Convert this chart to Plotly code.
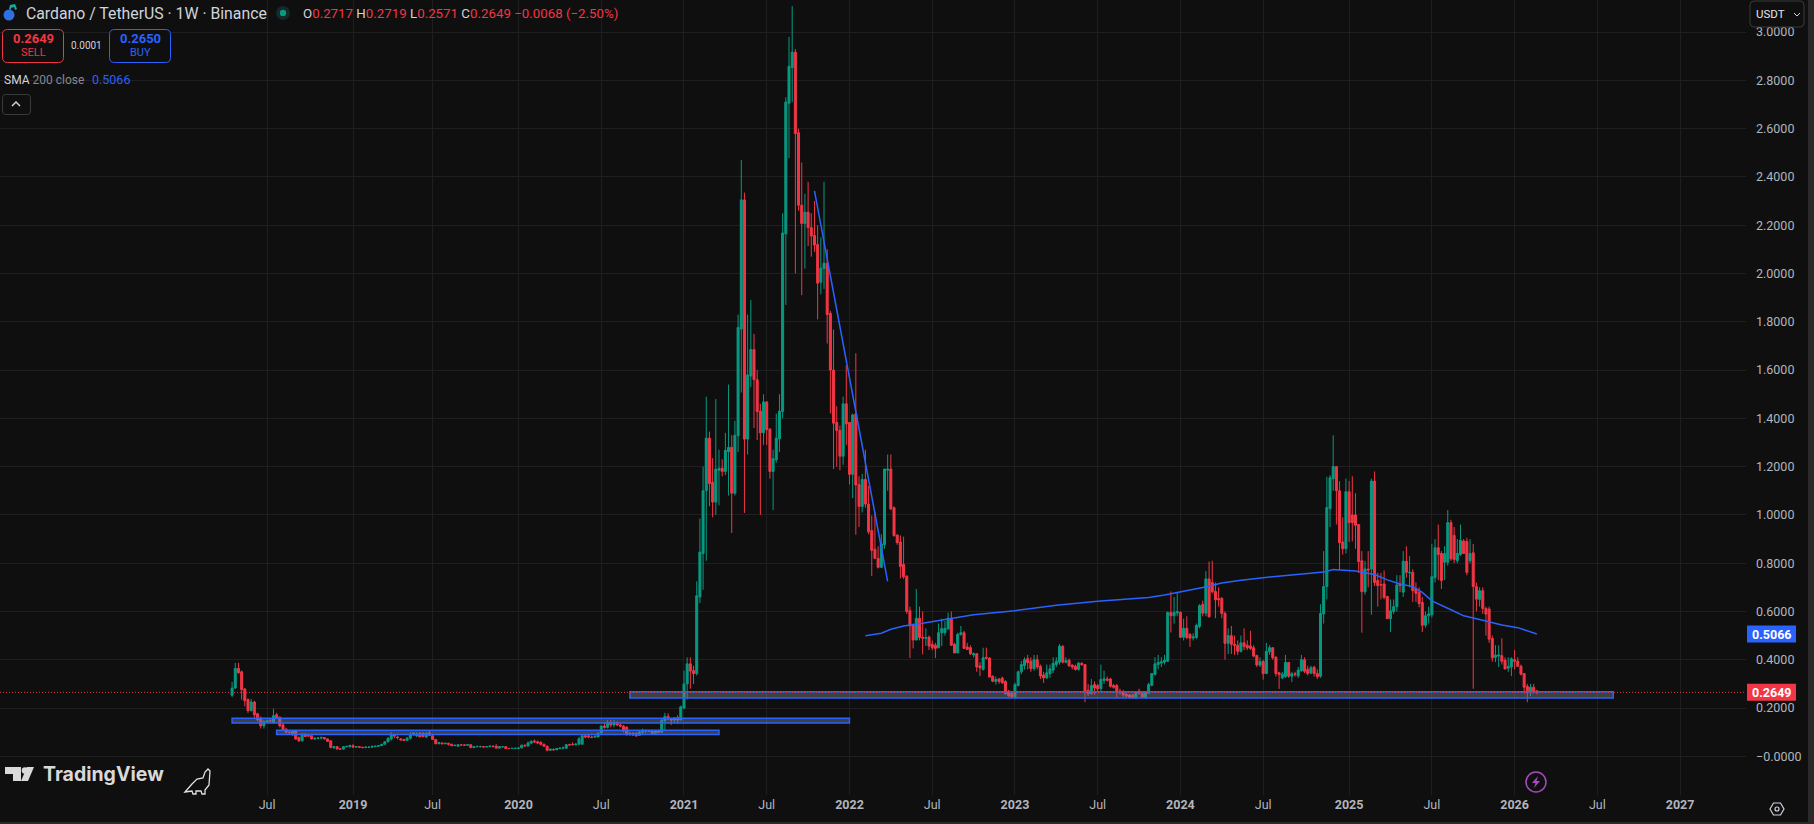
import pandas as pd
import plotly.graph_objects as go

# (open, high, low, close) per week, grouped by year
bars_2018 = [(.253,.308,.246,.283),(.283,.387,.279,.364),(.364,.387,.342,.346),(.35,.355,.235,.276),(.279,.283,.207,.23),
(.235,.24,.18,.189),(.19,.238,.185,.225),(.225,.23,.16,.172),(.176,.18,.145,.151),(.158,.165,.115,.126),
(.126,.15,.115,.144),(.144,.152,.14,.147),(.147,.155,.14,.146),(.14,.197,.135,.168),(.172,.18,.155,.158),
(.162,.165,.12,.126),(.13,.14,.105,.11),(.112,.118,.095,.1),(.1,.107,.09,.098),(.089,.107,.085,.105),
(.105,.11,.068,.072),(.078,.082,.06,.064),(.064,.095,.062,.092),(.092,.094,.08,.082),(.086,.092,.082,.084),
(.085,.088,.07,.072),(.072,.08,.068,.074),(.074,.078,.07,.076),(.076,.082,.07,.078),(.078,.08,.07,.072),
(.072,.074,.06,.062),(.064,.066,.034,.036),(.036,.04,.03,.04),(.04,.042,.028,.03),(.03,.032,.028,.03),
(.03,.042,.028,.04),(.04,.044,.036,.041),(.04,.048,.036,.044)]
bars_2019 = [(.044,.05,.036,.038),(.038,.042,.036,.04),(.04,.042,.036,.038),(.037,.04,.035,.036),(.036,.04,.036,.038),
(.038,.04,.034,.038),(.038,.046,.035,.04),(.04,.042,.038,.042),(.042,.046,.04,.044),(.044,.05,.043,.05),
(.05,.063,.05,.06),(.06,.078,.058,.075),(.072,.1,.065,.09),(.09,.09,.075,.084),(.08,.086,.07,.078),
(.072,.076,.066,.068),(.07,.072,.065,.066),(.066,.08,.064,.075),(.075,.1,.07,.088),(.088,.1,.085,.097),
(.085,.1,.08,.092),(.095,.1,.08,.08),(.095,.1,.078,.082),(.08,.1,.075,.095),(.097,.105,.085,.086),
(.085,.09,.07,.07),(.07,.07,.05,.052),(.052,.06,.05,.056),(.055,.058,.05,.052),(.052,.056,.05,.054),
(.054,.056,.045,.05),(.05,.052,.042,.044),(.044,.05,.042,.045),(.042,.048,.04,.048),(.047,.05,.045,.047),
(.047,.05,.044,.046),(.046,.05,.045,.048),(.048,.05,.034,.036),(.036,.042,.034,.04),(.04,.045,.038,.04),
(.04,.044,.037,.04),(.04,.041,.036,.039),(.039,.042,.037,.04),(.04,.045,.039,.042),(.042,.046,.038,.04),
(.042,.05,.032,.034),(.034,.042,.032,.04),(.04,.042,.035,.04),(.04,.04,.032,.032),(.033,.034,.03,.032),
(.032,.034,.03,.033),(.033,.035,.03,.033)]
bars_2020 = [(.033,.036,.03,.034),(.035,.048,.033,.046),(.045,.05,.04,.043),(.043,.062,.04,.055),(.055,.066,.05,.062),
(.063,.07,.055,.06),(.06,.065,.05,.056),(.058,.062,.045,.05),(.05,.052,.04,.042),(.042,.044,.02,.025),
(.025,.03,.022,.03),(.028,.033,.024,.027),(.027,.035,.026,.032),(.032,.036,.03,.034),(.034,.04,.03,.035),
(.033,.05,.032,.048),(.048,.052,.044,.047),(.05,.058,.046,.048),(.048,.055,.045,.05),(.05,.08,.048,.072),
(.05,.09,.05,.085),(.085,.09,.075,.08),(.085,.09,.075,.08),(.08,.086,.075,.078),(.08,.09,.076,.082),
(.08,.1,.08,.095),(.098,.13,.09,.125),(.125,.14,.115,.12),(.12,.15,.115,.14),(.14,.15,.12,.13),
(.13,.15,.12,.14),(.14,.145,.125,.13),(.13,.14,.12,.125),(.125,.13,.1,.105),(.12,.125,.085,.09),
(.09,.102,.085,.095),(.095,.1,.085,.088),(.095,.1,.08,.085),(.087,.105,.085,.1),(.1,.115,.09,.105),
(.105,.112,.095,.105),(.105,.11,.1,.103),(.105,.11,.09,.095),(.095,.11,.09,.105),(.105,.11,.095,.1),
(.1,.155,.095,.148),(.148,.18,.11,.165),(.165,.178,.15,.155),(.155,.16,.13,.15),(.15,.16,.14,.16),
(.16,.17,.135,.15),(.15,.21,.15,.205)]
bars_2021 = [(.2,.355,.195,.3),(.3,.41,.235,.383),(.383,.41,.28,.353),(.355,.375,.3,.343),(.343,.725,.335,.665),
(.66,.985,.635,.846),(.84,1.2,.69,1.10),(1.10,1.49,.81,1.318),(1.318,1.345,1.036,1.13),(1.135,1.235,.99,1.053),
(1.053,1.48,1.0,1.19),(1.185,1.27,1.04,1.193),(1.193,1.23,1.16,1.18),(1.18,1.34,1.165,1.267),(1.262,1.54,1.08,1.28),
(1.28,1.33,.925,1.09),(1.09,1.39,1.08,1.33),(1.328,1.83,1.26,1.776),(1.77,2.47,1.507,2.305),(2.305,2.335,1.008,1.314),
(1.314,1.83,1.25,1.58),(1.575,1.89,1.53,1.685),(1.685,1.75,1.36,1.56),(1.56,1.6,1.31,1.428),(1.43,1.46,1.0,1.34),
(1.34,1.5,1.29,1.468),(1.468,1.47,1.29,1.353),(1.355,1.36,1.15,1.18),(1.18,1.27,1.02,1.233),(1.228,1.42,1.217,1.318),
(1.315,1.5,1.26,1.43),(1.428,2.25,1.40,2.168),(2.164,2.73,1.87,2.71),(2.705,2.98,2.478,2.858),(2.853,3.108,2.71,2.917),
(2.917,2.93,2.0,2.58),(2.583,2.6,2.26,2.283),(2.283,2.46,1.91,2.207),(2.207,2.33,2.02,2.254),(2.254,2.38,2.114,2.19),
(2.19,2.25,2.07,2.155),(2.158,2.3,2.09,2.118),(2.12,2.2,1.81,1.96),(1.964,2.15,1.914,2.022),(2.02,2.38,1.936,2.043),
(2.043,2.1,1.71,1.83),(1.835,1.845,1.42,1.6),(1.6,1.768,1.19,1.38),(1.383,1.45,1.2,1.35),(1.35,1.37,1.185,1.243),
(1.243,1.49,1.207,1.46),(1.46,1.62,1.29,1.377)]
bars_2022 = [(1.383,1.385,1.126,1.168),(1.168,1.42,1.07,1.414),(1.418,1.67,.918,1.124),(1.126,1.16,.95,1.035),(1.035,1.17,1.01,1.147),
(1.147,1.27,1.03,1.045),(1.045,1.12,.92,.93),(.935,.997,.747,.853),(.858,1.014,.817,.82),(.82,.87,.778,.783),
(.783,.92,.78,.88),(.877,1.19,.86,1.19),(1.185,1.25,1.1,1.19),(1.19,1.25,1.02,1.025),(1.03,1.035,.91,.914),
(.917,.917,.876,.885),(.888,.915,.737,.786),(.795,.91,.735,.744),(.746,.75,.59,.6),(.603,.62,.407,.54),
(.543,.55,.447,.482),(.482,.693,.48,.572),(.572,.62,.48,.492),(.493,.6,.422,.489),(.489,.53,.457,.492),
(.494,.5,.44,.457),(.464,.48,.44,.45),(.46,.47,.407,.447),(.45,.55,.447,.512),(.512,.57,.457,.529),
(.512,.56,.5,.53),(.527,.595,.526,.572),(.572,.6,.457,.46),(.464,.47,.428,.428),(.428,.512,.428,.505),
(.505,.54,.5,.512),(.512,.52,.445,.447),(.453,.47,.44,.443),(.45,.46,.42,.425),(.42,.43,.41,.425),
(.425,.425,.35,.37),(.374,.39,.332,.367),(.36,.45,.355,.408),(.41,.45,.4,.407),(.407,.41,.328,.328),
(.332,.335,.307,.311),(.31,.33,.297,.318),(.32,.325,.3,.31),(.324,.33,.3,.305),(.31,.315,.255,.26),
(.27,.275,.245,.252),(.26,.265,.24,.246)]
bars_2023 = [(.246,.305,.24,.297),(.293,.355,.29,.35),(.35,.395,.34,.38),(.376,.41,.36,.4),(.404,.42,.36,.388),
(.394,.41,.35,.363),(.363,.42,.355,.4),(.4,.42,.36,.37),(.373,.38,.32,.333),(.337,.35,.304,.325),
(.325,.38,.32,.346),(.342,.38,.325,.362),(.357,.41,.345,.385),(.38,.41,.37,.394),(.39,.465,.38,.456),
(.456,.46,.385,.39),(.39,.41,.385,.396),(.398,.405,.37,.375),(.378,.38,.36,.37),(.373,.38,.355,.36),
(.36,.39,.355,.386),(.385,.39,.375,.38),(.38,.38,.224,.27),(.274,.3,.25,.26),(.26,.32,.255,.293),
(.297,.31,.255,.283),(.293,.3,.27,.28),(.28,.38,.27,.318),(.314,.355,.3,.321),(.32,.33,.31,.315),
(.32,.325,.285,.29),(.293,.3,.28,.286),(.293,.3,.242,.265),(.27,.28,.255,.265),(.267,.275,.245,.254),
(.256,.265,.245,.249),(.254,.258,.24,.243),(.253,.26,.238,.242),(.242,.27,.238,.265),(.27,.28,.255,.262),
(.261,.265,.24,.245),(.242,.27,.24,.265),(.262,.305,.26,.297),(.294,.345,.29,.343),(.339,.41,.335,.383),
(.38,.42,.36,.389),(.386,.41,.37,.392),(.39,.42,.38,.398),(.394,.6,.39,.596),(.596,.683,.513,.582),
(.582,.66,.55,.596),(.594,.68,.58,.6)]
bars_2024 = [(.596,.6,.49,.493),(.493,.57,.48,.53),(.53,.58,.485,.492),(.505,.51,.453,.489),(.49,.51,.48,.495),
(.492,.55,.485,.542),(.538,.63,.53,.624),(.63,.645,.58,.593),(.593,.767,.58,.735),(.735,.807,.575,.578),
(.72,.81,.675,.682),(.683,.72,.572,.648),(.654,.7,.62,.648),(.654,.66,.572,.592),(.592,.6,.4,.468),
(.468,.53,.424,.5),(.5,.54,.424,.464),(.464,.5,.42,.46),(.46,.48,.42,.435),(.435,.5,.43,.47),
(.47,.53,.44,.455),(.46,.48,.44,.449),(.457,.52,.44,.447),(.45,.46,.41,.415),(.418,.42,.37,.378),
(.378,.41,.37,.393),(.393,.4,.318,.343),(.343,.47,.34,.435),(.433,.46,.42,.45),(.45,.45,.4,.408),
(.41,.415,.33,.343),(.346,.35,.279,.339),(.325,.35,.32,.34),(.33,.42,.325,.389),(.389,.39,.325,.332),
(.332,.35,.308,.342),(.342,.35,.33,.339),(.333,.37,.325,.357),(.355,.42,.35,.4),(.4,.41,.345,.352),
(.36,.375,.335,.343),(.345,.375,.34,.367),(.369,.375,.33,.343),(.343,.36,.32,.33),(.332,.63,.325,.592),
(.59,.85,.55,.703),(.703,1.158,.65,1.03),(1.026,1.165,.95,1.154),(1.15,1.33,1.1,1.2),(1.2,1.2,.96,1.1),
(1.1,1.14,.77,.885),(.888,.99,.835,.86),(.86,1.15,.84,1.096)]
bars_2025 = [(1.096,1.14,.888,.968),(1.0,1.16,.89,.968),(1.0,1.09,.86,.957),(.96,.96,.76,.807),(.81,.85,.512,.682),
(.682,.81,.67,.776),(.776,.85,.7,.772),(.776,1.15,.586,1.14),(1.14,1.18,.705,.72),(.728,.76,.62,.707),
(.712,.76,.65,.71),(.714,.77,.65,.658),(.662,.665,.57,.57),(.57,.65,.515,.603),(.6,.65,.59,.62),
(.62,.75,.6,.71),(.714,.75,.68,.707),(.68,.85,.66,.808),(.808,.87,.74,.762),(.76,.83,.7,.762),
(.762,.775,.64,.686),(.693,.72,.64,.675),(.68,.7,.617,.633),(.637,.66,.515,.543),(.543,.6,.533,.582),
(.582,.62,.55,.59),(.586,.88,.575,.744),(.74,.9,.72,.864),(.864,.96,.73,.836),(.84,.85,.693,.728),
(.804,.87,.73,.84),(.804,1.02,.79,.968),(.968,.98,.81,.818),(.915,.95,.8,.815),(.81,.9,.8,.84),
(.836,.96,.83,.895),(.892,.9,.84,.84),(.89,.905,.75,.762),(.81,.9,.8,.84),(.843,.88,.28,.703),
(.703,.72,.6,.651),(.65,.7,.62,.686),(.686,.7,.59,.612),(.612,.62,.5,.589),(.61,.62,.47,.485),
(.488,.5,.392,.408),(.41,.46,.39,.419),(.415,.46,.37,.42),(.417,.489,.38,.394),(.398,.41,.36,.362),
(.365,.41,.35,.372),(.37,.41,.332,.404)]
bars_2026 = [(.4,.44,.36,.394),(.394,.41,.37,.373),(.373,.38,.335,.34),(.343,.345,.26,.286),(.29,.3,.224,.265),
(.265,.3,.25,.286),(.286,.3,.26,.27),(.2717,.2719,.2571,.2649)]

year_starts = {"2018-04-16": bars_2018, "2019-01-07": bars_2019, "2020-01-06": bars_2020, "2021-01-04": bars_2021,
               "2022-01-03": bars_2022, "2023-01-02": bars_2023, "2024-01-01": bars_2024, "2025-01-06": bars_2025,
               "2026-01-05": bars_2026}

sma_dates = ["2022-02-07","2022-03-14","2022-04-04","2022-05-02","2022-06-13","2022-08-08","2022-10-03","2023-01-02",
             "2023-04-03","2023-07-03","2023-10-23","2023-11-27","2024-02-19","2024-04-01","2024-05-13","2024-07-22",
             "2024-11-11","2024-12-02","2025-01-20","2025-03-03","2025-03-31","2025-04-28","2025-05-26","2025-06-16",
             "2025-07-07","2025-08-18","2025-09-15","2025-10-27","2025-12-08","2026-01-12","2026-02-23"]
sma_values = [.499,.51,.526,.54,.551,.568,.586,.603,.626,.642,.658,.668,.699,.718,.729,.744,.763,.774,.768,.753,.731,
              .714,.703,.679,.644,.607,.582,.564,.544,.533,.5066]
drop_dates = ["2021-10-18", "2022-03-28"]
drop_values = [2.342, .725]

zone_starts = ["2018-04-16", "2018-07-23", "2020-09-07"]
zone_ends = ["2022-01-03", "2021-03-22", "2026-08-10"]
zone_tops = [.158, .108, .267]
zone_bottoms = [.1375, .09, .2417]

last_close = .2649
last_sma = .5066
price_ticks = [0, .2, .4, .6, .8, 1.0, 1.2, 1.4, 1.6, 1.8, 2.0, 2.2, 2.4, 2.6, 2.8, 3.0]
price_labels = ["\u22120.0000", "0.2000", "0.4000", "0.6000", "0.8000", "1.0000", "1.2000", "1.4000", "1.6000",
                "1.8000", "2.0000", "2.2000", "2.4000", "2.6000", "2.8000", "3.0000"]
time_ticks = ["2018-07-02","2019-01-07","2019-07-01","2020-01-06","2020-07-06","2021-01-04","2021-07-05","2022-01-03",
              "2022-07-04","2023-01-02","2023-07-03","2024-01-01","2024-07-01","2025-01-06","2025-07-07","2026-01-05",
              "2026-07-06","2027-01-04"]
time_labels = ["Jul","<b>2019</b>","Jul","<b>2020</b>","Jul","<b>2021</b>","Jul","<b>2022</b>","Jul","<b>2023</b>","Jul",
               "<b>2024</b>","Jul","<b>2025</b>","Jul","<b>2026</b>","Jul","<b>2027</b>"]

GREEN, RED, BLUE = "#089981", "#F23645", "#2962FF"
BG, GRID, AXIS = "#0f0f0f", "#1f1f1f", "#b2b5bd"
FONT = "Roboto"
W, H, PW, PH = 1814, 824, 1746, 795

dates, o, h, l, c = [], [], [], [], []
for start, rows in year_starts.items():
    dates += list(pd.date_range(start, periods=len(rows), freq="7D"))
    o += [r[0] for r in rows]; h += [r[1] for r in rows]; l += [r[2] for r in rows]; c += [r[3] for r in rows]

fig = go.Figure()
fig.add_trace(go.Candlestick(x=dates, open=o, high=h, low=l, close=c, whiskerwidth=0, hoverinfo="skip",
    increasing=dict(line=dict(color=GREEN, width=1), fillcolor=GREEN),
    decreasing=dict(line=dict(color=RED, width=1), fillcolor=RED)))
fig.add_trace(go.Scatter(x=sma_dates, y=sma_values, mode="lines", line=dict(color=BLUE, width=1.5), hoverinfo="skip"))
fig.add_trace(go.Scatter(x=drop_dates, y=drop_values, mode="lines", line=dict(color=BLUE, width=1.5), hoverinfo="skip"))

px = lambda x: x / PW
py = lambda y: 1 - y / PH
shapes, notes = [], []

def rrect(x0, y0, x1, y1, r, line, fill="rgba(0,0,0,0)", width=1):
    a, b, cc, d = px(x0), py(y0), px(x1), py(y1)
    rx, ry = r / PW, r / PH
    p = (f"M{a+rx},{b} L{cc-rx},{b} Q{cc},{b} {cc},{b-ry} L{cc},{d+ry} Q{cc},{d} {cc-rx},{d} "
         f"L{a+rx},{d} Q{a},{d} {a},{d+ry} L{a},{b-ry} Q{a},{b} {a+rx},{b} Z")
    shapes.append(dict(type="path", xref="paper", yref="paper", path=p, line=dict(color=line, width=width), fillcolor=fill, layer="above"))

def pixpath(points, line="rgba(0,0,0,0)", fill="rgba(0,0,0,0)", width=1, close=True):
    p = "M" + " L".join(f"{px(x)},{py(y)}" for x, y in points) + (" Z" if close else "")
    shapes.append(dict(type="path", xref="paper", yref="paper", path=p, line=dict(color=line, width=width), fillcolor=fill, layer="above"))

def circle(cx, cy, r, line="rgba(0,0,0,0)", fill="rgba(0,0,0,0)", width=1):
    shapes.append(dict(type="circle", xref="paper", yref="paper", x0=px(cx-r), x1=px(cx+r), y0=py(cy+r), y1=py(cy-r),
                       line=dict(color=line, width=width), fillcolor=fill, layer="above"))

def text(x, y, s, size=12, color="#d1d4dc", anchor="left", family=FONT):
    notes.append(dict(xref="paper", yref="paper", x=px(x), y=py(y), text=s, showarrow=False, xanchor=anchor, yanchor="middle",
                      font=dict(size=size, color=color, family=family), align=anchor))

# zones and last price line
for s, e, t, b in zip(zone_starts, zone_ends, zone_tops, zone_bottoms):
    shapes.append(dict(type="rect", xref="x", yref="y", x0=s, x1=e, y0=b, y1=t, layer="above",
                       line=dict(color=BLUE, width=1.5), fillcolor="rgba(125,125,125,0.45)"))
shapes.append(dict(type="line", xref="paper", yref="y", x0=0, x1=1, y0=last_close, y1=last_close, layer="above",
                   line=dict(color=RED, width=1, dash="1px,2px")))

# price scale labels
for val, col in ((last_sma, BLUE), (last_close, RED)):
    shapes.append(dict(type="rect", xref="paper", yref="paper", x0=px(1747), x1=px(1796),
                       y0=py(756.3 - 241.4 * val + 8.5), y1=py(756.3 - 241.4 * val - 8.5), fillcolor=col, line=dict(width=0), layer="above"))
    text(1771.5, 756.3 - 241.4 * val, f"<b>{val:.4f}</b>", 12.5, "#ffffff", "center")

# currency button
rrect(1750, 1, 1804, 27, 4, "#3a3a3a", BG)
text(1754, 14, "USDT", 11.5, "#e4e6eb")
pixpath([(1794, 13), (1797, 16), (1800, 13)], "#d1d4dc", width=1, close=False)

# header
circle(9, 15, 5.5, fill="#2f6fe0")
pixpath([(9, 9), (10, 5), (15, 4), (17, 9), (15, 10), (14, 7), (11, 8), (11, 10)], fill="#1aa5a0")
text(24, 14, "Cardano / TetherUS \u00b7 1W \u00b7 Binance", 15.8)
circle(283, 13, 7, fill="#15282a")
circle(283, 13, 3.2, fill=GREEN)
sp = lambda s: f'<span style="color:{RED}">{s}</span>'
text(301, 14, f"O{sp('0.2717')} H{sp('0.2719')} L{sp('0.2571')} C{sp('0.2649')} {sp('\u22120.0068 (\u22122.50%)')}", 13.3)

rrect(2.5, 29.5, 63.5, 62.5, 5, RED, BG)
text(33, 39, "<b>0.2649</b>", 13, RED, "center")
text(33, 53, "SELL", 11, RED, "center")
text(86, 46, "0.0001", 10, "#d1d4dc", "center")
rrect(109.5, 29.5, 170.5, 62.5, 5, BLUE, BG)
text(140, 39, "<b>0.2650</b>", 13, BLUE, "center")
text(140, 53, "BUY", 11, BLUE, "center")
text(2, 80, '<span style="color:#d1d4dc">SMA</span> <span style="color:#868993">200 close</span>', 12)
text(90, 80, "0.5066", 12.5, BLUE)
rrect(2.5, 94.5, 30.5, 114.5, 3, "#3a3a3a", BG)
pixpath([(12, 106), (16, 102), (20, 106)], "#d1d4dc", width=1.5, close=False)

# branding
pixpath([(5, 767), (21, 767), (21, 781), (13, 781), (13, 774), (5, 774)], fill="#d9d9d9")
circle(25, 770.5, 3.3, fill="#d9d9d9")
pixpath([(27, 767), (34, 767), (28, 781), (21, 781)], fill="#d9d9d9")
text(41, 774, "<b>TradingView</b>", 19.5, "#d9d9d9", family="Inter")
pixpath([(185, 792), (192, 784), (197, 779), (203, 778), (205, 772), (208, 769), (210, 771), (209, 785), (205, 790),
         (205, 794), (202, 794), (201, 791), (196, 791), (196, 794), (193, 794), (192, 791)], "#e0e0e0", width=1.3)

# lightning badge and settings icon
circle(1536, 782, 10, "#a64bbd", width=1.5)
pixpath([(1538, 776), (1532, 783), (1535.5, 783), (1534, 788), (1540, 781), (1536.5, 781)], fill="#a64bbd")
pixpath([(1770, 809), (1773.5, 803), (1780.5, 803), (1784, 809), (1780.5, 815), (1773.5, 815)], "#d1d4dc", width=1.2)
circle(1777, 809, 2, "#d1d4dc", width=1.2)

# window edge
shapes.append(dict(type="rect", xref="paper", yref="paper", x0=px(1808), x1=px(1814), y0=py(824), y1=py(0), fillcolor="#2a2a2a", line=dict(width=0), layer="above"))
shapes.append(dict(type="rect", xref="paper", yref="paper", x0=0, x1=px(1814), y0=py(824), y1=py(822), fillcolor="#2a2a2a", line=dict(width=0), layer="above"))

fig.update_layout(
    width=W, height=H, margin=dict(l=0, r=W - PW, t=0, b=H - PH), paper_bgcolor=BG, plot_bgcolor=BG, showlegend=False,
    boxgap=0.1, hovermode=False, shapes=shapes, annotations=notes,
    font=dict(family=FONT, color=AXIS),
    xaxis=dict(type="date", range=["2016-11-21 12:00", "2027-05-29"], rangeslider=dict(visible=False), tickmode="array",
               tickvals=time_ticks, ticktext=time_labels, showgrid=True, gridcolor=GRID, gridwidth=1, zeroline=False,
               showline=False, ticks="", tickfont=dict(size=12.5, color=AXIS)),
    yaxis=dict(range=[-.1603, 3.133], side="right", tickmode="array", tickvals=price_ticks, ticktext=price_labels,
               showgrid=True, gridcolor=GRID, gridwidth=1, zeroline=False, showline=False, ticks="", ticklabelstandoff=9,
               tickfont=dict(size=12.5, color=AXIS)),
)

fig.write_html("out.html", config=dict(displayModeBar=False, responsive=False),
               post_script="document.body.style.margin='0';document.body.style.background='#0f0f0f';document.documentElement.style.overflow='hidden';")
